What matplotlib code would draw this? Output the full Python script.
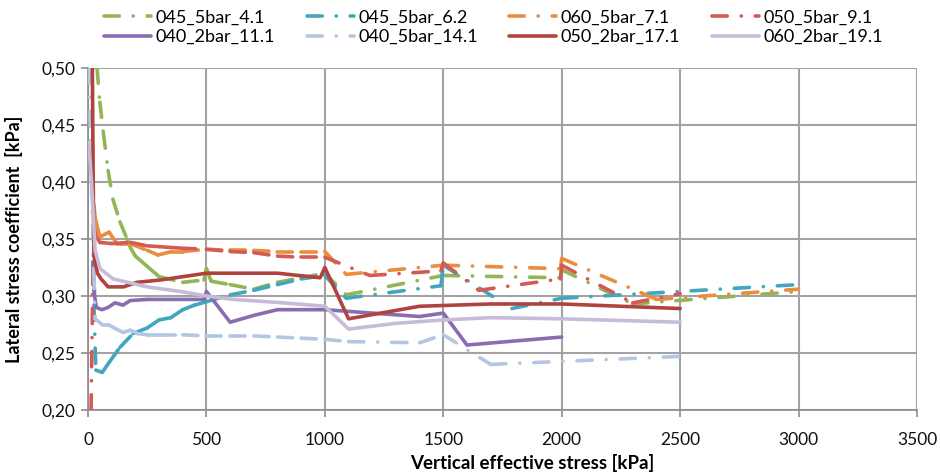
import matplotlib as mpl
mpl.use('agg')
import matplotlib.pyplot as plt

# Lato is the closest installed face to the Calibri of the original
plt.rcParams['font.family'] = ['Lato', 'DejaVu Sans']
plt.rcParams['lines.scale_dashes'] = False

# --- data (vertical effective stress [kPa], K0) ---
x_4_1 = [38, 50, 65, 85, 105, 135, 165, 180, 200, 250, 300, 400, 490, 500, 520, 600, 700, 800, 900, 1000, 1090, 1500, 1995, 2000, 2300, 3000]
y_4_1 = [0.500, 0.470, 0.443, 0.410, 0.385, 0.365, 0.350, 0.342, 0.335, 0.326, 0.317, 0.312, 0.314, 0.324, 0.313, 0.310, 0.306, 0.312, 0.316, 0.320, 0.301, 0.318, 0.316, 0.323, 0.293, 0.304]

x_6_2 = [20, 33, 60, 90, 135, 190, 250, 300, 350, 400, 450, 500, 600, 700, 800, 900, 1000, 1090, 1490, 1500, 1790, 2000, 3000]
y_6_2 = [0.330, 0.235, 0.233, 0.242, 0.255, 0.267, 0.272, 0.279, 0.281, 0.288, 0.292, 0.295, 0.301, 0.305, 0.310, 0.315, 0.318, 0.298, 0.309, 0.327, 0.289, 0.298, 0.310]

x_7_1 = [25, 30, 42, 51, 89, 122, 178, 250, 296, 355, 402, 500, 600, 700, 800, 900, 1000, 1090, 1500, 1995, 2000, 2400, 3000]
y_7_1 = [0.380, 0.369, 0.358, 0.352, 0.356, 0.346, 0.346, 0.340, 0.336, 0.339, 0.339, 0.341, 0.340, 0.340, 0.339, 0.339, 0.339, 0.319, 0.327, 0.324, 0.333, 0.297, 0.306]

x_9_1 = [13, 20, 25, 35, 50, 100, 180, 250, 320, 390, 500, 600, 700, 800, 900, 1000, 1190, 1490, 1500, 1650, 1995, 2000, 2300, 2500]
y_9_1 = [0.200, 0.310, 0.360, 0.352, 0.347, 0.346, 0.347, 0.344, 0.343, 0.342, 0.341, 0.339, 0.338, 0.335, 0.334, 0.334, 0.318, 0.322, 0.329, 0.305, 0.315, 0.327, 0.294, 0.302]

x_11_1 = [22, 28, 35, 59, 85, 114, 148, 178, 250, 490, 500, 600, 700, 800, 1000, 1400, 1500, 1600, 2000]
y_11_1 = [0.330, 0.300, 0.290, 0.288, 0.290, 0.294, 0.292, 0.296, 0.297, 0.297, 0.304, 0.277, 0.283, 0.288, 0.288, 0.282, 0.285, 0.257, 0.264]

x_14_1 = [4, 15, 25, 30, 60, 85, 110, 148, 178, 211, 250, 304, 400, 500, 600, 700, 800, 900, 1000, 1100, 1400, 1500, 1700, 2500]
y_14_1 = [0.500, 0.400, 0.320, 0.280, 0.275, 0.275, 0.272, 0.268, 0.270, 0.267, 0.266, 0.266, 0.266, 0.265, 0.265, 0.265, 0.264, 0.263, 0.262, 0.260, 0.259, 0.266, 0.240, 0.247]

x_17_1 = [18, 22, 25, 40, 55, 85, 150, 207, 304, 402, 500, 800, 980, 1000, 1100, 1400, 1700, 2000, 2500]
y_17_1 = [0.510, 0.400, 0.335, 0.320, 0.315, 0.308, 0.308, 0.312, 0.314, 0.317, 0.320, 0.320, 0.316, 0.325, 0.280, 0.291, 0.293, 0.293, 0.289]

x_19_1 = [3, 15, 30, 51, 106, 250, 390, 500, 613, 825, 1000, 1100, 1300, 1500, 1700, 2000, 2500]
y_19_1 = [0.435, 0.400, 0.340, 0.324, 0.315, 0.308, 0.304, 0.300, 0.297, 0.294, 0.291, 0.271, 0.276, 0.279, 0.281, 0.280, 0.277]

labels = ['045_5bar_4.1', '045_5bar_6.2', '060_5bar_7.1', '050_5bar_9.1',
          '040_2bar_11.1', '040_5bar_14.1', '050_2bar_17.1', '060_2bar_19.1']
colors = ['#93B557', '#41A6BF', '#E88E3E', '#D45A55',
          '#8A6CB0', '#B3C6E2', '#B0433F', '#C7BBD8']
dashed = [True, True, True, True, False, True, False, False]
xs = [x_4_1, x_6_2, x_7_1, x_9_1, x_11_1, x_14_1, x_17_1, x_19_1]
ys = [y_4_1, y_6_2, y_7_1, y_9_1, y_11_1, y_14_1, y_17_1, y_19_1]

x_ticks = [0, 500, 1000, 1500, 2000, 2500, 3000, 3500]
y_ticks = [0.20, 0.25, 0.30, 0.35, 0.40, 0.45, 0.50]

dash_dot = (0, (11, 10, 0.1, 10))
lw = 2.6
grid_col = '#A3A3A3'

fig = plt.figure(figsize=(9.4, 4.75), dpi=100)
ax = fig.add_axes([88/940, 1 - 410/475, (917 - 88)/940, (410 - 68)/475])

handles = []
for i in range(len(labels)):
    if dashed[i]:
        # excel restarts the dash pattern at every data point
        for j in range(len(xs[i]) - 1):
            ln, = ax.plot(xs[i][j:j+2], ys[i][j:j+2], color=colors[i], lw=lw,
                          ls=dash_dot, dash_capstyle='round', zorder=3+i)
            if j == 0:
                handles.append(ln)
    else:
        ln, = ax.plot(xs[i], ys[i], color=colors[i], lw=lw, solid_capstyle='round',
                      solid_joinstyle='round', zorder=3+i)
        handles.append(ln)

ax.set_xlim(0, 3500)
ax.set_ylim(0.20, 0.50)
ax.set_xticks(x_ticks)
ax.set_yticks(y_ticks)
ax.set_yticklabels(['{:.2f}'.format(v).replace('.', ',') for v in y_ticks])
ax.grid(True, color=grid_col, lw=1.5, zorder=0)
ax.set_axisbelow(True)
for s in ['top', 'right']:
    ax.spines[s].set_visible(False)
for s in ['left', 'bottom']:
    ax.spines[s].set_color('#8C8C8C')
    ax.spines[s].set_linewidth(1.2)
ax.tick_params(axis='both', direction='out', length=5, width=1.2, color='#8C8C8C',
               labelsize=12.5, labelcolor='#111111', pad=4)
ax.tick_params(axis='x', pad=11)

ax.set_xlabel('Vertical effective stress [kPa]', fontsize=13.5, fontweight='bold')
ax.xaxis.set_label_coords((532 - 88) / 829, -0.128)
ax.set_ylabel('Lateral stress coefficient  [kPa]', fontsize=13, fontweight='bold')
ax.yaxis.set_label_coords(-0.078, 0.5)

# legend is filled row by row in the original
order = [0, 4, 1, 5, 2, 6, 3, 7]
fig.legend([handles[k] for k in order], [labels[k] for k in order],
           loc='upper center', bbox_to_anchor=(0.525, 1.014), ncol=4, frameon=False,
           fontsize=13, handlelength=2.6, handletextpad=0.25, columnspacing=1.75,
           labelspacing=0.2)

fig.savefig('out.png', dpi=100)
